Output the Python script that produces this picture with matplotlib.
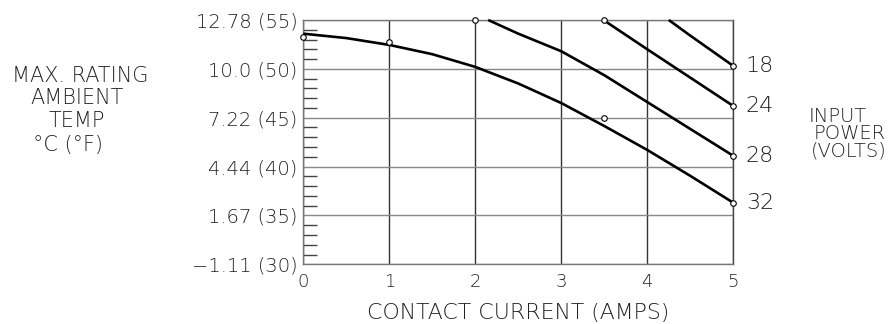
import matplotlib
matplotlib.use("Agg")
import matplotlib.pyplot as plt
from matplotlib.ticker import MultipleLocator

# derating curves, x = contact current (A), y = max ambient temp (deg F)
amps_32 = [0, 0.5, 1, 1.5, 2, 2.5, 3, 3.5, 4, 4.5, 5]
temp_32 = [53.6, 53.15, 52.45, 51.5, 50.2, 48.5, 46.5, 44.15, 41.7, 39.05, 36.3]
amps_28 = [2.15, 2.5, 3, 3.5, 4, 4.5, 5]
temp_28 = [55, 53.6, 51.8, 49.35, 46.6, 43.85, 41.1]
amps_24 = [3.49, 4, 4.5, 5]
temp_24 = [55, 52.0, 49.1, 46.2]
amps_18 = [4.25, 4.5, 5]
temp_18 = [55, 53.4, 50.3]

# loose data points
pt_amps = [0, 1, 2, 3.5, 3.5]
pt_temp = [53.3, 52.7, 55, 55, 45]

volts = ["18", "24", "28", "32"]
y_ticks = [30, 35, 40, 45, 50, 55]
y_labels = ["\u22121.11 (30)", "1.67 (35)", "4.44 (40)", "7.22 (45)", "10.0 (50)", "12.78 (55)"]
x_ticks = [0, 1, 2, 3, 4, 5]

W, H = 892, 324
fig = plt.figure(figsize=(W / 100, H / 100), dpi=100)
ax = fig.add_axes([303.3 / W, 1 - 264.3 / H, 430 / W, 244.3 / H])

txt = dict(color="#222222", fontweight="light")

curves = [(amps_18, temp_18), (amps_24, temp_24), (amps_28, temp_28), (amps_32, temp_32)]
for xs, ys in curves:
    ax.plot(xs, ys, color="black", lw=1.9, solid_capstyle="butt", zorder=3, clip_on=False)
    ax.plot(xs[-1], ys[-1], "o", ms=4, mfc="white", mec="black", mew=0.8, zorder=4, clip_on=False)

ax.plot(pt_amps, pt_temp, "o", ms=4, mfc="white", mec="black", mew=0.8, zorder=4, clip_on=False)

for (xs, ys), v in zip(curves, volts):
    ax.annotate(v, (xs[-1], ys[-1]), xytext=(9, 0), textcoords="offset points",
                ha="left", va="center", fontsize=16, **txt)

ax.set_xlim(0, 5)
ax.set_ylim(30, 55)
ax.set_xticks(x_ticks)
ax.set_xticklabels([str(v) for v in x_ticks], fontsize=13, **txt)
ax.set_yticks(y_ticks)
ax.set_yticklabels(y_labels, fontsize=14, **txt)
ax.yaxis.set_minor_locator(MultipleLocator(1))
ax.tick_params(axis="y", which="minor", direction="in", length=10, width=1, color="#444444")
ax.tick_params(axis="y", which="major", length=0, pad=4)
ax.tick_params(axis="x", which="major", length=0, pad=6)

ax.grid(True, axis="y", color="#888888", lw=1)
ax.grid(True, axis="x", color="#333333", lw=1)
for s in ax.spines.values():
    s.set_color("#777777")
    s.set_linewidth(1)
ax.spines["right"].set_color("#444444")

ax.set_xlabel("CONTACT CURRENT (AMPS)", fontsize=15.8, labelpad=9, **txt)

# left title block
fig.text(80 / W, 1 - 76 / H, "MAX. RATING", ha="center", va="center", fontsize=15, **txt)
fig.text(77 / W, 1 - 98 / H, "AMBIENT", ha="center", va="center", fontsize=15, **txt)
fig.text(77 / W, 1 - 121 / H, "TEMP", ha="center", va="center", fontsize=15, **txt)
fig.text(68 / W, 1 - 145 / H, "°C (°F)", ha="center", va="center", fontsize=15, **txt)

# right title block
fig.text(838 / W, 1 - 116 / H, "INPUT", ha="center", va="center", fontsize=14, **txt)
fig.text(850 / W, 1 - 133 / H, "POWER", ha="center", va="center", fontsize=14, **txt)
fig.text(849 / W, 1 - 151 / H, "(VOLTS)", ha="center", va="center", fontsize=14, **txt)

fig.savefig("out.png", dpi=100)
